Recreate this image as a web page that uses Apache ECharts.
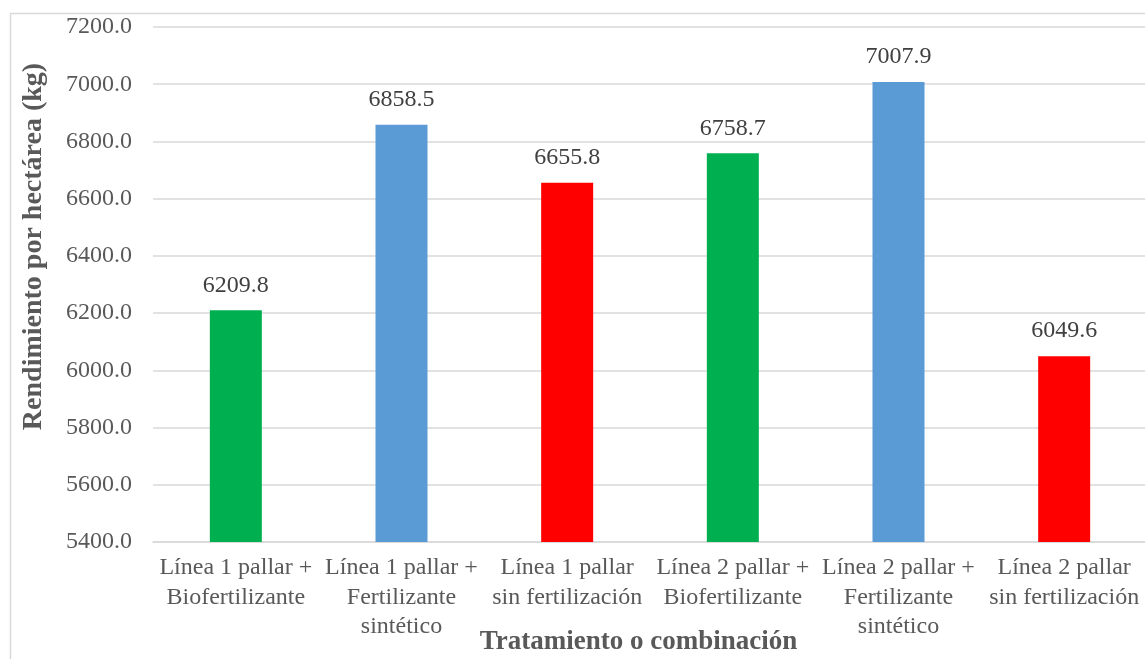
<!DOCTYPE html>
<html>
<head>
<meta charset="utf-8">
<script src="https://cdn.jsdelivr.net/npm/echarts@6/dist/echarts.min.js"></script>
<style>
  html, body { margin: 0; padding: 0; background: #ffffff; overflow: hidden; }
  #chart { width: 1145px; height: 659px; overflow: hidden; }
</style>
</head>
<body>
<div id="chart"></div>
<script>
// Yield per hectare by treatment
const categories = [
  'Línea 1 pallar +\nBiofertilizante',
  'Línea 1 pallar +\nFertilizante\nsintético',
  'Línea 1 pallar\nsin fertilización',
  'Línea 2 pallar +\nBiofertilizante',
  'Línea 2 pallar +\nFertilizante\nsintético',
  'Línea 2 pallar\nsin fertilización'
];
const yieldValues = [6209.8, 6858.5, 6655.8, 6758.7, 7007.9, 6049.6];
const barColors = ['#00b050', '#5b9bd5', '#ff0000', '#00b050', '#5b9bd5', '#ff0000'];
const yTicks = { min: 5400, max: 7200, interval: 200 };
const xTitle = 'Tratamiento o combinación';
const yTitle = 'Rendimiento por hectárea (kg)';

const serif = '"Liberation Serif", "DejaVu Serif", serif';
const textGray = '#595959';

const chart = echarts.init(document.getElementById('chart'), null, {
  renderer: 'canvas', width: 1145, height: 659
});

chart.setOption({
  animation: false,
  backgroundColor: '#ffffff',
  graphic: [{
    type: 'rect',
    shape: { x: 10.5, y: 13.5, width: 1160, height: 680 },
    style: { fill: 'none', stroke: '#d9d9d9', lineWidth: 1.5 },
    silent: true,
    z: -1
  }],
  grid: {
    left: 153, right: -2, top: 27, bottom: 117,
    containLabel: false,
    outerBoundsMode: 'none'
  },
  xAxis: {
    type: 'category',
    data: categories,
    name: xTitle,
    nameLocation: 'middle',
    nameGap: 87,
    nameMoveOverlap: false,
    nameTextStyle: {
      fontFamily: serif, fontSize: 27, fontWeight: 'bold', color: textGray,
      padding: [0, 23, 0, 0]
    },
    axisLine: { show: true, lineStyle: { color: '#d9d9d9', width: 1.5 } },
    axisTick: { show: false },
    axisLabel: {
      fontFamily: serif, fontSize: 24, color: textGray,
      lineHeight: 29.5, margin: 11, interval: 0
    },
    splitLine: { show: false }
  },
  yAxis: {
    type: 'value',
    min: yTicks.min,
    max: yTicks.max,
    interval: yTicks.interval,
    name: yTitle,
    nameLocation: 'middle',
    nameGap: 105,
    nameMoveOverlap: false,
    nameRotate: 90,
    nameTextStyle: {
      fontFamily: serif, fontSize: 28, fontWeight: 'bold', color: textGray,
      padding: [0, 0, 0, 76]
    },
    axisLine: { show: false },
    axisTick: { show: false },
    axisLabel: {
      fontFamily: serif, fontSize: 24, color: textGray, margin: 21,
      formatter: v => v.toFixed(1)
    },
    splitLine: { show: true, lineStyle: { color: '#d9d9d9', width: 1.5 } }
  },
  series: [{
    type: 'bar',
    data: yieldValues.map((v, i) => ({ value: v, itemStyle: { color: barColors[i] } })),
    barWidth: 52,
    label: {
      show: true,
      position: 'top',
      distance: 13,
      fontFamily: serif,
      fontSize: 24,
      color: '#404040',
      formatter: p => p.value.toFixed(1)
    }
  }]
});
</script>
</body>
</html>
